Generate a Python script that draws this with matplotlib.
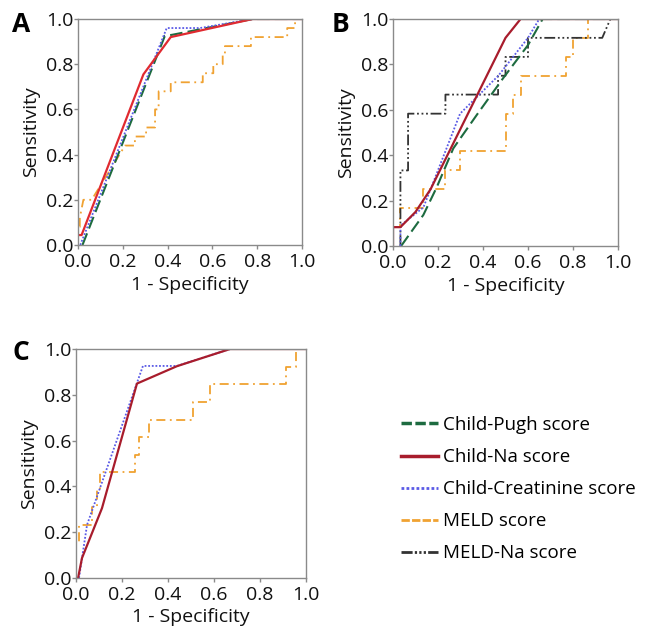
import matplotlib
matplotlib.use("Agg")
import matplotlib.pyplot as plt
from matplotlib.lines import Line2D

plt.rcParams['font.family'] = ['Open Sans', 'DejaVu Sans']

ticks = [0.0, 0.2, 0.4, 0.6, 0.8, 1.0]
tick_labels = ["0.0", "0.2", "0.4", "0.6", "0.8", "1.0"]
series_names = ["Child-Pugh score", "Child-Na score", "Child-Creatinine score",
                "MELD score", "MELD-Na score"]

# Panel A
a_pugh_x = [0.02, 0.388, 0.42, 0.78, 1.0]
a_pugh_y = [0.0, 0.926, 0.93, 1.0, 1.0]
a_na_x = [0.0, 0.016, 0.292, 0.414, 0.78, 1.0]
a_na_y = [0.044, 0.044, 0.755, 0.92, 1.0, 1.0]
a_cr_x = [0.01, 0.396, 0.545, 0.78, 1.0]
a_cr_y = [0.0, 0.96, 0.96, 1.0, 1.0]
a_meld_x = [0.0, 0.0, 0.008, 0.008, 0.024, 0.061, 0.21, 0.254, 0.254, 0.304, 0.304,
            0.344, 0.344, 0.36, 0.36, 0.414, 0.414, 0.557, 0.557, 0.604, 0.604,
            0.646, 0.646, 0.656, 0.656, 0.772, 0.772, 0.934, 0.934, 0.969, 0.969, 1.0]
a_meld_y = [0.0, 0.08, 0.08, 0.12, 0.2, 0.2, 0.44, 0.44, 0.48, 0.48, 0.52,
            0.52, 0.6, 0.6, 0.68, 0.68, 0.72, 0.72, 0.76, 0.76, 0.8,
            0.8, 0.84, 0.84, 0.88, 0.88, 0.92, 0.92, 0.96, 0.96, 1.0, 1.0]

# Panel B
b_pugh_x = [0.036, 0.135, 0.194, 0.268, 0.372, 0.49, 0.6, 0.665, 1.0]
b_pugh_y = [0.0, 0.137, 0.258, 0.43, 0.577, 0.74, 0.885, 1.0, 1.0]
b_na_x = [0.0, 0.0, 0.033, 0.1, 0.167, 0.5, 0.567, 1.0]
b_na_y = [0.0, 0.083, 0.083, 0.15, 0.25, 0.917, 1.0, 1.0]
b_cr_x = [0.033, 0.033, 0.135, 0.167, 0.298, 0.468, 0.6, 0.65, 1.0]
b_cr_y = [0.0, 0.09, 0.17, 0.25, 0.583, 0.75, 0.917, 1.0, 1.0]
b_meld_x = [0.0, 0.0, 0.033, 0.033, 0.135, 0.135, 0.233, 0.233, 0.3, 0.3, 0.5, 0.5,
            0.533, 0.533, 0.567, 0.567, 0.767, 0.767, 0.8, 0.8, 0.867, 0.867, 1.0]
b_meld_y = [0.0, 0.083, 0.083, 0.167, 0.167, 0.25, 0.25, 0.333, 0.333, 0.417, 0.417, 0.583,
            0.583, 0.667, 0.667, 0.75, 0.75, 0.833, 0.833, 0.917, 0.917, 1.0, 1.0]
b_meldna_x = [0.033, 0.033, 0.067, 0.067, 0.233, 0.233, 0.467, 0.467, 0.5, 0.5,
              0.6, 0.6, 0.93, 0.966, 1.0]
b_meldna_y = [0.0, 0.333, 0.333, 0.583, 0.583, 0.667, 0.667, 0.75, 0.75, 0.833,
              0.833, 0.917, 0.917, 1.0, 1.0]

# Panel C
c_na_x = [0.009, 0.026, 0.113, 0.265, 0.439, 0.67, 1.0]
c_na_y = [0.0, 0.087, 0.305, 0.849, 0.925, 1.0, 1.0]
c_cr_x = [0.013, 0.048, 0.291, 0.439, 0.67, 1.0]
c_cr_y = [0.0, 0.232, 0.926, 0.926, 1.0, 1.0]
c_meld_x = [0.0, 0.0, 0.015, 0.015, 0.07, 0.07, 0.09, 0.09, 0.106, 0.106, 0.258, 0.258,
            0.272, 0.272, 0.316, 0.316, 0.507, 0.507, 0.584, 0.584, 0.914, 0.914,
            0.958, 0.958, 1.0]
c_meld_y = [0.0, 0.154, 0.154, 0.231, 0.231, 0.308, 0.308, 0.385, 0.385, 0.462, 0.462, 0.538,
            0.538, 0.615, 0.615, 0.692, 0.692, 0.769, 0.769, 0.846, 0.846, 0.923,
            0.923, 1.0, 1.0]

GREEN = "#1d6b40"
RED_A = "#e02a30"
RED = "#a81c2c"
BLUE = "#5a5ae6"
ORANGE = "#f0a232"
BLACK = "#333333"

sty_pugh = dict(color=GREEN, lw=1.5, ls=(0, (6, 2.5)))
sty_cr = dict(color=BLUE, lw=1.3, ls=(0, (1, 1)))
sty_meld = dict(color=ORANGE, lw=1.3, ls=(0, (5, 2.5, 1, 2.5)))
sty_meldna = dict(color=BLACK, lw=1.3, ls=(0, (6, 1.5, 1, 1.5, 1, 1.5, 1, 1.5)))

fig = plt.figure(figsize=(6.45, 6.27), dpi=100)

def style_axes(ax):
    ax.set_xlim(0, 1)
    ax.set_ylim(0, 1)
    ax.set_xticks(ticks)
    ax.set_yticks(ticks)
    ax.set_xticklabels(tick_labels)
    ax.set_yticklabels(tick_labels)
    for s in ax.spines.values():
        s.set_color("#8a8a8a")
        s.set_linewidth(1.0)
    ax.tick_params(direction="out", length=3, width=1, color="#8a8a8a",
                   labelsize=14, labelcolor="#111111")
    ax.tick_params(axis="x", pad=3)
    ax.tick_params(axis="y", pad=0.5)
    ax.set_xlabel("1 - Specificity", fontsize=14, labelpad=3, color="#111111")
    ax.set_ylabel("Sensitivity", fontsize=14, labelpad=4, color="#111111")

axA = fig.add_axes([78/645, 1-245/627, 224/645, 226/627])
axA.plot(a_meld_x, a_meld_y, **sty_meld)
axA.plot(a_pugh_x, a_pugh_y, **sty_pugh)
axA.plot(a_cr_x, a_cr_y, **sty_cr)
axA.plot(a_na_x, a_na_y, color=RED_A, lw=1.6)
style_axes(axA)

axB = fig.add_axes([393/645, 1-246/627, 225/645, 227/627])
axB.plot(b_meld_x, b_meld_y, **sty_meld)
axB.plot(b_meldna_x, b_meldna_y, **sty_meldna)
axB.plot(b_pugh_x, b_pugh_y, **sty_pugh)
axB.plot(b_cr_x, b_cr_y, **sty_cr)
axB.plot(b_na_x, b_na_y, color=RED, lw=1.6)
style_axes(axB)

axC = fig.add_axes([76/645, 1-578/627, 230/645, 229/627])
axC.plot(c_meld_x, c_meld_y, **sty_meld)
axC.plot(c_cr_x, c_cr_y, **sty_cr)
axC.plot(c_na_x, c_na_y, color=RED, lw=1.6)
style_axes(axC)

for lbl, (px, py) in zip(["A", "B", "C"], [(12, 24), (332, 24), (12, 353)]):
    fig.text(px/645, 1-py/627, lbl, fontsize=19, fontweight="bold",
             ha="left", va="center")

handles = [
    Line2D([], [], color=GREEN, lw=2.5, ls=(0, (3, 1))),
    Line2D([], [], color=RED, lw=2.5),
    Line2D([], [], color=BLUE, lw=2, ls=(0, (1, 0.8))),
    Line2D([], [], color=ORANGE, lw=2, ls=(0, (3, 0.8))),
    Line2D([], [], color=BLACK, lw=2, ls=(0, (4, 0.8, 0.8, 0.8, 0.8, 0.8, 0.8, 0.8))),
]
fig.legend(handles, series_names, loc="upper left",
           bbox_to_anchor=(401/645, 1-416/627), frameon=False,
           fontsize=13.5, handlelength=2.0, handletextpad=0.25,
           labelspacing=0.75, borderaxespad=0, borderpad=0)

fig.savefig("out.png", dpi=100)
